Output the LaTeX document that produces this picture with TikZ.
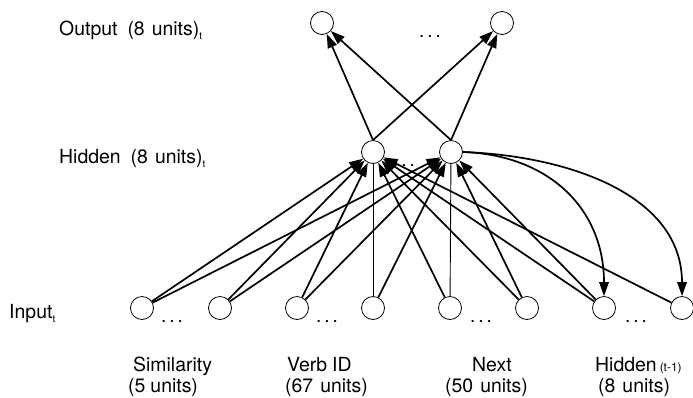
\documentclass[tikz,border=0pt]{standalone}
\usepackage{fontspec}
\setmainfont{TeX Gyre Heros}
\usetikzlibrary{arrows.meta}
\tikzset{
  unit/.style={circle, draw, line width=0.8bp, minimum size=23bp, inner sep=0pt},
  conn/.style={line width=1.7bp, -{Triangle[length=14bp,width=9.5bp]}},
  plain/.style={line width=0.9bp},
  lbl/.style={anchor=base west, inner sep=0pt, font=\fontsize{19.5}{19.5}\selectfont},
  dots/.style={anchor=base, inner sep=0pt, font=\fontsize{19}{19}\selectfont}
}
\newcommand{\mysub}[1]{\raisebox{-4bp}{\fontsize{10}{10}\selectfont #1}}
\newcommand{\mydots}{.\hspace{3bp}.\hspace{3bp}.}
\begin{document}
\begin{tikzpicture}[x=1bp,y=-1bp]
\useasboundingbox (0,0) rectangle (693,397);
% output
\node[unit] (o1) at (322,23) {};
\node[unit] (o2) at (502,23) {};
\node[dots] (od) at (430,37) {\mydots};
% hidden
\node[unit] (h1) at (373,152) {};
\node[unit] (h2) at (451,152) {};
\node[dots] (hd) at (404,166) {\mydots};
% input
\node[unit] (i1) at (142,308) {};
\node[unit] (i2) at (220,308) {};
\node[unit] (i3) at (297,308) {};
\node[unit] (i4) at (373,308) {};
\node[unit] (i5) at (450,308) {};
\node[unit] (i6) at (527,308) {};
\node[unit] (i7) at (604,308) {};
\node[unit] (i8) at (682,308) {};
\node[dots] (d1) at (172,322) {\mydots};
\node[dots] (d2) at (327,322) {\mydots};
\node[dots] (d3) at (481,322) {\mydots};
\node[dots] (d4) at (636,322) {\mydots};
% layer labels
\node[lbl] (lo) at (59,35) {Output\hspace{10bp}(8\hspace{7bp}units)\mysub{t}};
\node[lbl] (lh) at (59,163) {Hidden\hspace{10bp}(8\hspace{7bp}units)\mysub{t}};
\node[lbl] (li) at (9,318) {Input\mysub{t}};
% group labels
\node[lbl] (g1a) at (133,371) {Similarity};
\node[lbl] (g1b) at (128,392) {(5\hspace{5bp}units)};
\node[lbl] (g2a) at (287,371) {Verb\hspace{5bp}ID};
\node[lbl] (g2b) at (285,392) {(67\hspace{7bp}units)};
\node[lbl] (g3a) at (472,371) {Next};
\node[lbl] (g3b) at (445,392) {(50\hspace{7bp}units)};
\node[lbl] (g4a) at (595,371) {Hidden\hspace{3bp}{\fontsize{12}{12}\selectfont(t-1)}};
\node[lbl] (g4b) at (598,392) {(8\hspace{7bp}units)};
% hidden -> output
\draw[conn] (h1.north) -- (o1);
\draw[conn] (h1.north) -- (o2);
\draw[conn] (h2.north) -- (o1);
\draw[conn] (h2.north) -- (o2);
% input -> hidden
\draw[conn] (i1) -- (h1);
\draw[conn] (i1) -- (h2);
\draw[conn] (i2) -- (h1);
\draw[conn] (i2) -- (h2);
\draw[conn] (i3) -- (h1);
\draw[conn] (i3) -- (h2);
\draw[plain] (i4) -- (h1);
\draw[conn] (i4) -- (h2);
\draw[conn] (i5) -- (h1);
\draw[plain] (i5) -- (h2);
\draw[conn] (i6) -- (h1);
\draw[conn] (i6) -- (h2);
\draw[conn] (i7) -- (h1);
\draw[conn] (i7) -- (h2);
\draw[conn] (i8) -- (h1);
% recurrent copy
\draw[conn] (h2.east) to[out=-2,in=90,looseness=1.1] (i7.north);
\draw[conn] (h2.east) to[out=-2,in=90,looseness=1.0] (i8.north);
\end{tikzpicture}
\end{document}
